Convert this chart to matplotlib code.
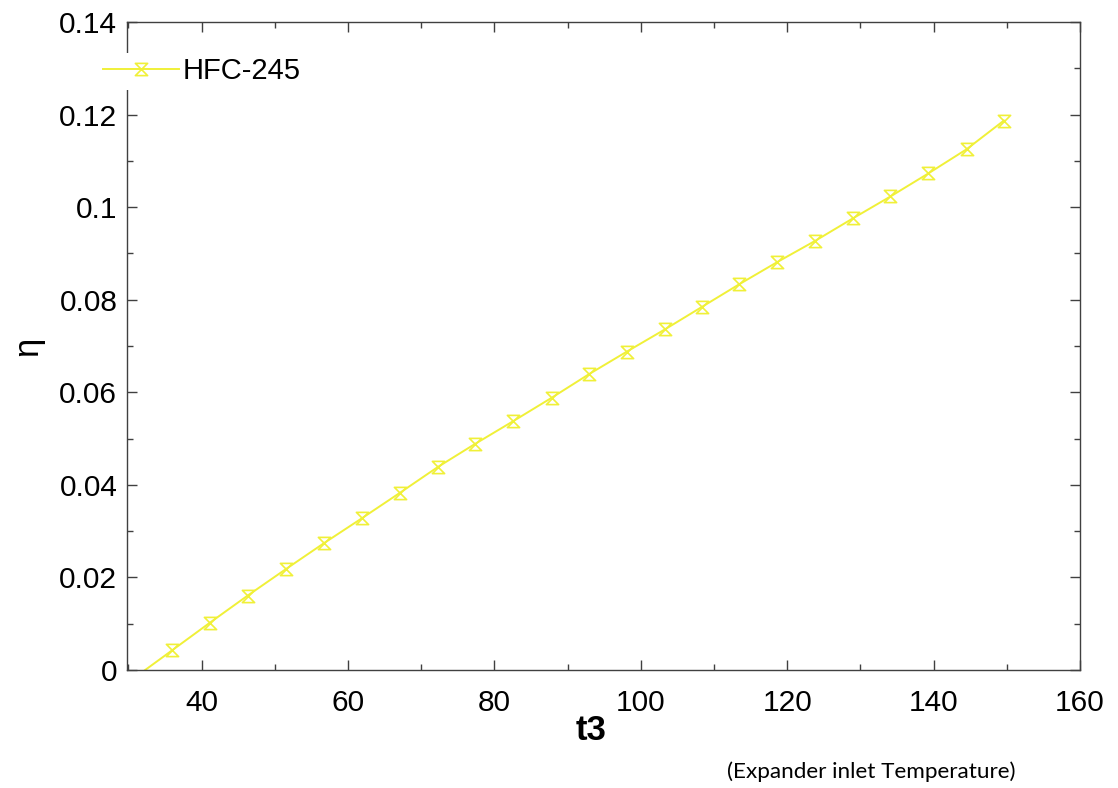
import numpy as np
import matplotlib
matplotlib.use("Agg")
import matplotlib.pyplot as plt
from matplotlib.path import Path
from matplotlib.ticker import MultipleLocator, FuncFormatter

# expander inlet temperature t3 and efficiency eta
t3 = [30.8, 36.0, 41.1, 46.3, 51.5, 56.7, 61.9, 67.1, 72.3, 77.3, 82.6, 87.8,
      92.9, 98.1, 103.3, 108.4, 113.4, 118.6, 123.8, 129.0, 134.1, 139.3,
      144.5, 149.6]
eta = [-0.0017, 0.0043, 0.0102, 0.0161, 0.0218, 0.0274, 0.0328, 0.0383,
       0.0439, 0.0488, 0.0538, 0.0588, 0.0639, 0.0688, 0.0736, 0.0785,
       0.0833, 0.0881, 0.0927, 0.0976, 0.1023, 0.1073, 0.1125, 0.1187]
series_name = 'HFC-245'
x_ticks = [40, 60, 80, 100, 120, 140, 160]
y_ticks = [0, 0.02, 0.04, 0.06, 0.08, 0.1, 0.12, 0.14]

plt.rcParams['font.family'] = ['Liberation Sans', 'DejaVu Sans']

# hourglass marker like the original
hourglass = Path([(-1, 1), (1, 1), (-1, -1), (1, -1), (-1, 1)],
                 [Path.MOVETO, Path.LINETO, Path.LINETO, Path.LINETO, Path.CLOSEPOLY])

fig = plt.figure(figsize=(11.18, 7.88), dpi=100)
ax = fig.add_axes([0.1136, 0.1497, 0.966 - 0.1136, 0.9721 - 0.1497])

yellow = '#F0F038'
ax.plot(t3, eta, color=yellow, linewidth=1.4, marker=hourglass, markersize=8.8,
        markerfacecolor='none', markeredgecolor=yellow, markeredgewidth=1.2,
        label=series_name)

ax.set_xlim(29.8, 160)
ax.set_ylim(0, 0.14)
ax.set_xticks(x_ticks)
ax.set_yticks(y_ticks)
ax.xaxis.set_minor_locator(MultipleLocator(10))
ax.yaxis.set_minor_locator(MultipleLocator(0.01))
ax.yaxis.set_major_formatter(FuncFormatter(lambda v, p: '%g' % round(v, 3)))

for s in ax.spines.values():
    s.set_color('#404040')
    s.set_linewidth(1.0)
ax.tick_params(which='both', direction='in', top=True, right=True, color='#404040', width=1.0)
ax.tick_params(which='major', length=7, labelsize=21.5)
ax.tick_params(which='minor', length=4)
ax.tick_params(axis='x', which='major', pad=14)
ax.tick_params(axis='y', which='major', pad=7)

ax.set_ylabel('η', fontsize=25, labelpad=11)
ax.set_xlabel('t3', fontsize=25, fontweight='bold', x=0.487, labelpad=-2.5)

fig.text(0.7795, 0.008, '(Expander inlet Temperature)', fontsize=16.2,
         family=['Lato', 'DejaVu Sans'], ha='center', va='bottom')

leg = ax.legend(loc='upper left', bbox_to_anchor=(0.088, 0.933), bbox_transform=fig.transFigure,
                fontsize=21, frameon=True, fancybox=False, framealpha=1,
                handlelength=2.6, handletextpad=0.15, borderpad=0.15, borderaxespad=0)
leg.get_frame().set_edgecolor('none')
leg.get_frame().set_facecolor('white')

fig.savefig('out.png', dpi=100)
